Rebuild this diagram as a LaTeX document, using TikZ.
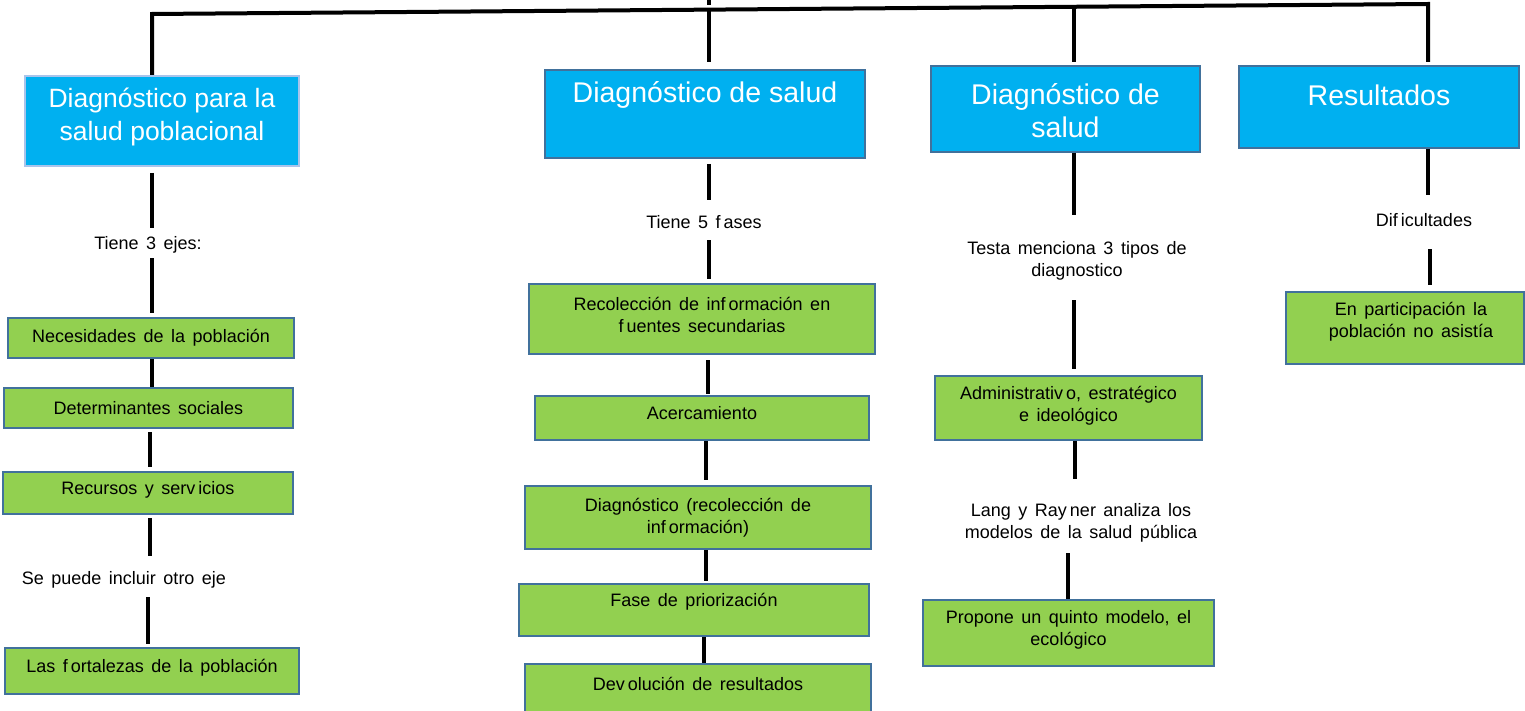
\documentclass[tikz,border=0pt]{standalone}
\usepackage{fontspec}
\setmainfont{Liberation Sans}
\newfontfamily\smallfam{Liberation Sans}[WordSpace=1.5]
\newcommand{\rz}[2]{\raisebox{#1}[\height][\depth]{#2}}
\definecolor{hdrblue}{HTML}{00B0F0}
\definecolor{boxgreen}{HTML}{92D050}
\definecolor{edgeblue}{HTML}{41719C}
\definecolor{paleedge}{HTML}{A9C4EB}
\tikzset{
  conn/.style={line width=4pt, black},
  hdr/.style={draw=edgeblue, line width=2pt, fill=hdrblue, text=white, align=center, inner sep=0pt, font=\fontsize{28.5}{33}\selectfont},
  grn/.style={draw=edgeblue, line width=2pt, fill=boxgreen, text=black, align=center, inner sep=0pt, font=\smallfam\fontsize{18}{22}\selectfont},
  lbl/.style={inner sep=0pt, align=center, text=black, font=\smallfam\fontsize{18}{22}\selectfont},
  lblone/.style={lbl, text height=13pt, text depth=4pt},
}
\begin{document}
\begin{tikzpicture}[x=1pt,y=-1pt]
\useasboundingbox (0,0) rectangle (1525,711);
\clip (0,0) rectangle (1525,711);

% column coordinates
\coordinate (cA) at (152,0);
\coordinate (cAb) at (150,0);
\coordinate (cAc) at (148,0);
\coordinate (cB) at (709,0);
\coordinate (cBb) at (708,0);
\coordinate (cBc) at (706,0);
\coordinate (cBd) at (704,0);
\coordinate (cC) at (1074,0);
\coordinate (cCb) at (1075,0);
\coordinate (cCc) at (1068,0);
\coordinate (cD) at (1428,0);
\coordinate (cDb) at (1430,0);

% header boxes
\node[hdr, draw=paleedge, font=\fontsize{26.5}{33}\selectfont, minimum width=274pt, minimum height=90pt] (b1) at (162,121)
  {\rz{4pt}{Diagnóstico para la}\\\rz{4pt}{salud poblacional}};
\node[hdr, minimum width=320pt, minimum height=88pt] (b2) at (705,114)
  {\rz{19pt}{Diagnóstico de salud}};
\node[hdr, minimum width=269pt, minimum height=86pt] (b3) at (1065.5,109)
  {\rz{-2pt}{Diagnóstico de}\\\rz{-2pt}{salud}};
\node[hdr, minimum width=280pt, minimum height=82pt] (b4) at (1379,107)
  {\rz{12pt}{Resultados}};

% column 1
\node[lblone] (t1) at (148,245) {Tiene 3 ejes:};
\node[grn, minimum width=286pt, minimum height=40pt] (n1) at (151,338) {Necesidades de la población};
\node[grn, minimum width=289pt, minimum height=40pt] (n2) at (148.5,408) {Determinantes sociales};
\node[grn, minimum width=290pt, minimum height=42pt] (n3) at (148,493) {\rz{3pt}{Recursos y serv\,icios}};
\node[lblone] (t2) at (124,580) {Se puede incluir otro eje};
\node[grn, minimum width=294pt, minimum height=46pt] (n4) at (152,671) {\rz{3pt}{Las f\,ortalezas de la población}};

% column 2
\node[lblone] (t3) at (704,224) {Tiene 5 f\,ases};
\node[grn, minimum width=346pt, minimum height=70pt] (m1) at (702,319)
  {\rz{4pt}{Recolección de inf\,ormación en}\\\rz{4pt}{f\,uentes secundarias}};
\node[grn, minimum width=334pt, minimum height=44pt] (m2) at (702,418) {\rz{5pt}{Acercamiento}};
\node[grn, minimum width=346pt, minimum height=63pt] (m3) at (698,517.5)
  {Diagnóstico (recolección de\\inf\,ormación)};
\node[grn, minimum width=350pt, minimum height=52pt] (m4) at (694,610) {\rz{8pt}{Fase de priorización}};
\node[grn, minimum width=346pt, minimum height=58pt] (m5) at (698,693) {\rz{9pt}{Dev\,olución de resultados}};

% column 3
\node[lbl] (t4) at (1077,261) {Testa menciona 3 tipos de\\diagnostico};
\node[grn, minimum width=267pt, minimum height=64pt] (r1) at (1068.5,408)
  {\rz{2pt}{Administrativ\,o, estratégico}\\\rz{2pt}{e ideológico}};
\node[lbl] (t5) at (1081,523) {Lang y Ray\,ner analiza los\\modelos de la salud pública};
\node[grn, minimum width=291pt, minimum height=66pt] (r2) at (1068.5,633)
  {\rz{3pt}{Propone un quinto modelo, el}\\\rz{3pt}{ecológico}};

% column 4
\node[lblone] (t6) at (1424,222) {Dif\,icultades};
\node[grn, minimum width=238pt, minimum height=72pt] (s1) at (1405,328)
  {\rz{6pt}{\hspace{12pt}En participación la}\\\rz{6pt}{\hspace{12pt}población no asistía}};

% top bracket
\coordinate (hl) at (152,14);
\coordinate (hr) at (1428,4);
\coordinate (d2) at (709,10);
\coordinate (d3) at (1074,7);
\coordinate (tk1) at (709,0);
\coordinate (tk2) at (709,5);
\draw[conn, shorten >=3pt] (b1.north -| cA) -- (hl) -- (hr) -- (b4.north -| cD);
\draw[conn, shorten >=7pt] (d2) -- (b2.north -| cB);
\draw[conn, shorten >=3pt] (d3) -- (b3.north -| cC);
\draw[conn] (tk1) -- (tk2);

% column 1 connectors
\draw[conn, shorten <=6pt, shorten >=8.5pt] (b1.south -| cA) -- (t1.north -| cA);
\draw[conn, shorten <=4.5pt, shorten >=4pt] (t1.south -| cA) -- (n1.north -| cA);
\draw[conn] (n1.south -| cA) -- (n2.north -| cA);
\draw[conn, shorten <=3pt, shorten >=4pt] (n2.south -| cAb) -- (n3.north -| cAb);
\draw[conn, shorten <=3pt, shorten >=15.5pt] (n3.south -| cAb) -- (t2.north -| cAb);
\draw[conn, shorten <=8.5pt, shorten >=3pt] (t2.south -| cAc) -- (n4.north -| cAc);

% column 2 connectors
\draw[conn, shorten <=5pt, shorten >=15.5pt] (b2.south -| cB) -- (t3.north -| cB);
\draw[conn, shorten <=7.5pt, shorten >=4pt] (t3.south -| cB) -- (m1.north -| cB);
\draw[conn, shorten <=5pt, shorten >=1pt] (m1.south -| cBb) -- (m2.north -| cBb);
\draw[conn, shorten >=5pt] (m2.south -| cBc) -- (m3.north -| cBc);
\draw[conn, shorten >=2pt] (m3.south -| cBc) -- (m4.north -| cBc);
\draw[conn] (m4.south -| cBd) -- (m5.north -| cBd);

% column 3 connectors
\draw[conn, shorten >=26.5pt] (b3.south -| cC) -- (t4.north -| cC);
\draw[conn, shorten <=19.5pt, shorten >=6pt] (t4.south -| cC) -- (r1.north -| cC);
\draw[conn, shorten >=24.5pt] (r1.south -| cCb) -- (t5.north -| cCb);
\draw[conn, shorten <=10.5pt] (t5.south -| cCc) -- (r2.north -| cCc);

% column 4 connectors
\draw[conn, shorten >=18.5pt] (b4.south -| cD) -- (t6.north -| cD);
\draw[conn, shorten <=18.5pt, shorten >=6pt] (t6.south -| cDb) -- (s1.north -| cDb);
\end{tikzpicture}
\end{document}
